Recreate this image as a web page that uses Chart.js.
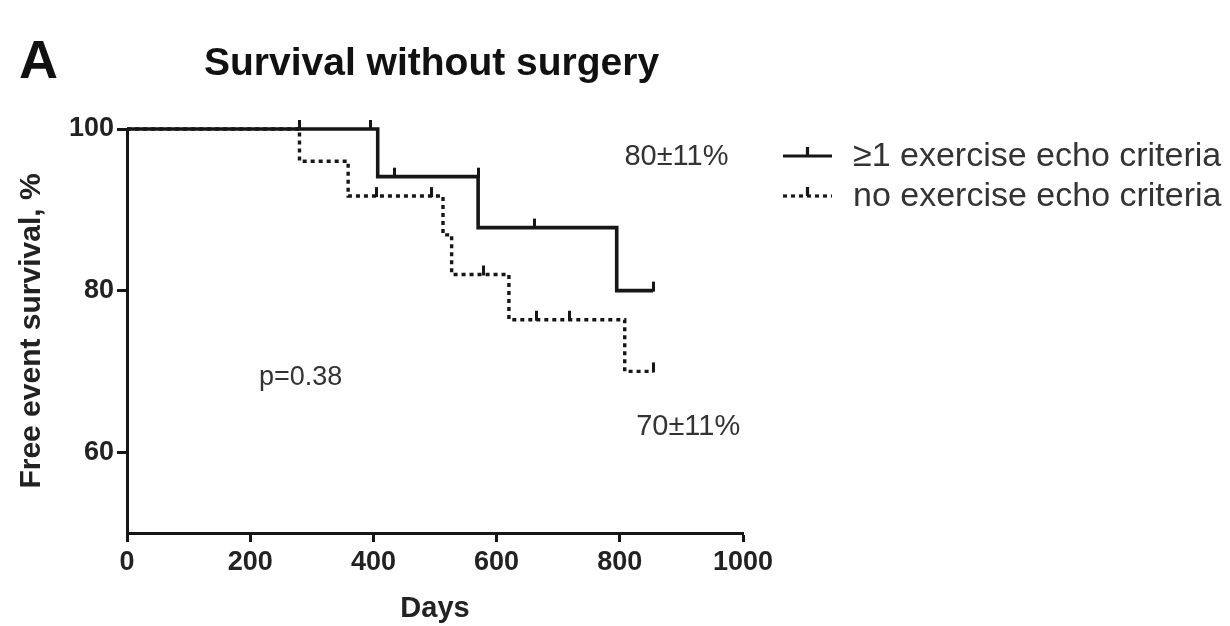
<!DOCTYPE html>
<html>
<head>
<meta charset="utf-8">
<title>Survival without surgery</title>
<script src="https://cdn.jsdelivr.net/npm/chart.js@4.4.1/dist/chart.umd.min.js"></script>
<style>
  html, body { margin: 0; padding: 0; background: #ffffff; }
  #wrap { width: 1230px; height: 626px; position: relative; }
  canvas { display: block; filter: blur(0.5px); }
</style>
</head>
<body>
<div id="wrap"><canvas id="km" width="1230" height="626"></canvas></div>
<script>
// Kaplan–Meier curves: event times (days) and survival (%) after each step
const groupLabels = ['≥1 exercise echo criteria', 'no exercise echo criteria'];

const echoDays       = [0, 407, 570, 795, 854];
const echoSurvival   = [100, 94.1, 87.8, 80, 80];

const noEchoDays     = [0, 280, 359, 513, 527, 620, 808, 854];
const noEchoSurvival = [100, 96, 91.7, 86.9, 82.0, 76.4, 70, 70];

// censored patients (tick marks on the curves)
const echoCensorDays       = [280, 396, 435, 570, 662, 854];
const echoCensorSurvival   = [100, 100, 94.1, 94.1, 87.8, 80];
const noEchoCensorDays     = [405, 495, 578, 665, 719, 854];
const noEchoCensorSurvival = [91.7, 91.7, 82.0, 76.4, 76.4, 70];

// axis ticks
const xTickValues = [0, 200, 400, 600, 800, 1000];
const yTickValues = [60, 80, 100];

// texts
const panelLetter = 'A';
const chartTitle  = 'Survival without surgery';
const echoRateText   = '80±11%';
const noEchoRateText = '70±11%';
const pValueText     = 'p=0.38';

const FONT = '"Liberation Sans", Arial, Helvetica, sans-serif';
const INK = '#161616';

const toPoints = (xs, ys) => xs.map((x, i) => ({ x: x, y: ys[i] }));

// censor mark: short vertical stroke rising from the curve
function makeCensorMark() {
  const c = document.createElement('canvas');
  c.width = 3; c.height = 20;
  const g = c.getContext('2d');
  g.fillStyle = INK;
  g.fillRect(0, 1, 3, 10);
  return c;
}
const censorMark = makeCensorMark();

const decorations = {
  id: 'decorations',
  afterDraw(chart) {
    const ctx = chart.ctx;
    const xs = chart.scales.x, ys = chart.scales.y;
    ctx.save();
    ctx.textBaseline = 'alphabetic';
    ctx.textAlign = 'left';

    // panel letter and title
    ctx.fillStyle = '#111';
    ctx.font = 'bold 54px ' + FONT;
    ctx.fillText(panelLetter, 19, 78);
    ctx.font = 'bold 39px ' + FONT;
    ctx.fillText(chartTitle, 204, 75);

    // survival rates and p value
    ctx.fillStyle = '#333';
    ctx.font = '29px ' + FONT;
    ctx.textAlign = 'center';
    ctx.textBaseline = 'middle';
    ctx.fillText(echoRateText, xs.getPixelForValue(892), ys.getPixelForValue(96.5));
    ctx.fillText(noEchoRateText, xs.getPixelForValue(911), ys.getPixelForValue(63.1));
    ctx.font = '27px ' + FONT;
    ctx.fillText(pValueText, xs.getPixelForValue(282), ys.getPixelForValue(69.2));

    // legend
    const rows = [{ y: 156, dash: [] }, { y: 196, dash: [4, 4] }];
    ctx.textAlign = 'left';
    ctx.font = '34px ' + FONT;
    rows.forEach((r, i) => {
      ctx.strokeStyle = INK;
      ctx.lineWidth = 3.2;
      ctx.setLineDash(r.dash);
      ctx.beginPath();
      ctx.moveTo(783, r.y);
      ctx.lineTo(832, r.y);
      ctx.stroke();
      ctx.setLineDash([]);
      ctx.beginPath();
      ctx.moveTo(807.5, r.y);
      ctx.lineTo(807.5, r.y - 9);
      ctx.stroke();
      ctx.fillStyle = '#333';
      ctx.fillText(groupLabels[i], 853, r.y + 1);
    });
    ctx.restore();
  }
};

const tickFont  = { family: FONT, size: 27, weight: 'bold' };
const titleFont = { family: FONT, size: 29, weight: 'bold' };

new Chart(document.getElementById('km'), {
  type: 'line',
  data: {
    datasets: [
      {
        label: groupLabels[0],
        data: toPoints(echoDays, echoSurvival),
        stepped: 'before',
        borderColor: INK,
        borderWidth: 3.6,
        pointRadius: 0,
        fill: false,
        clip: false
      },
      {
        label: groupLabels[1],
        data: toPoints(noEchoDays, noEchoSurvival),
        stepped: 'before',
        borderColor: INK,
        borderWidth: 3.4,
        borderDash: [4, 4],
        pointRadius: 0,
        fill: false,
        clip: false
      },
      {
        type: 'scatter',
        label: 'censored ' + groupLabels[0],
        data: toPoints(echoCensorDays, echoCensorSurvival),
        pointStyle: censorMark,
        showLine: false,
        clip: false
      },
      {
        type: 'scatter',
        label: 'censored ' + groupLabels[1],
        data: toPoints(noEchoCensorDays, noEchoCensorSurvival),
        pointStyle: censorMark,
        showLine: false,
        clip: false
      }
    ]
  },
  options: {
    responsive: false,
    animation: false,
    events: [],
    layout: { padding: { left: 0, top: 129, right: 487, bottom: 0 } },
    plugins: {
      legend: { display: false },
      tooltip: { enabled: false },
      title: { display: false }
    },
    scales: {
      x: {
        type: 'linear',
        min: 0,
        max: 1000,
        afterBuildTicks: s => { s.ticks = xTickValues.map(v => ({ value: v })); },
        afterFit: s => { s.height = 93; },
        grid: { drawOnChartArea: false, drawTicks: true, tickLength: 9, tickWidth: 3, color: INK },
        border: { display: true, width: 3, color: INK },
        ticks: { font: tickFont, color: '#222', padding: 4, maxRotation: 0, callback: v => String(v) },
        title: { display: true, text: 'Days', font: titleFont, color: '#222', padding: { top: 0, bottom: 0 } }
      },
      y: {
        min: 50,
        max: 100,
        afterBuildTicks: s => { s.ticks = yTickValues.map(v => ({ value: v })); },
        afterFit: s => { s.width = 127; },
        grid: { drawOnChartArea: false, drawTicks: true, tickLength: 10, tickWidth: 3, color: INK },
        border: { display: true, width: 3, color: INK },
        ticks: { font: tickFont, color: '#222', padding: 3, callback: v => String(v) },
        title: { display: true, text: 'Free event survival, %', font: { family: FONT, size: 30, weight: 'bold' }, color: '#222', padding: { top: 14, bottom: 0 } }
      }
    }
  },
  plugins: [decorations]
});
</script>
</body>
</html>
